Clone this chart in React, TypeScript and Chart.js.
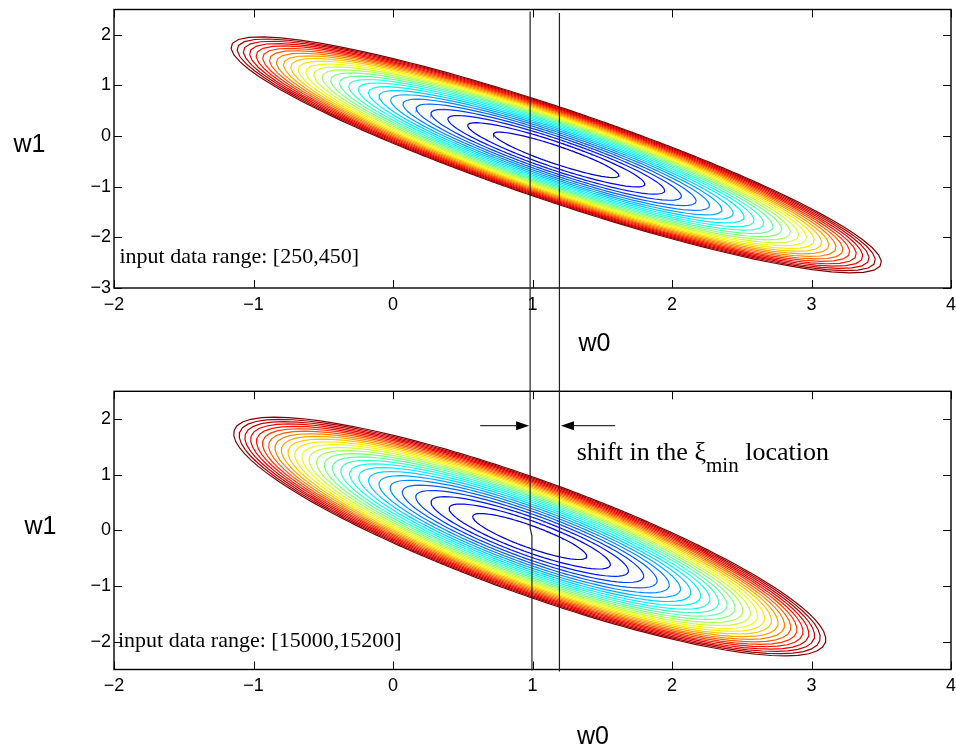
import React, { useEffect, useRef } from "react";
import { Chart, registerables } from "chart.js";

Chart.register(...registerables);

// Axis ticks
const W0_TICKS = [-2, -1, 0, 1, 2, 3, 4];
const W1_TICKS_TOP = [-3, -2, -1, 0, 1, 2];
const W1_TICKS_BOTTOM = [-2, -1, 0, 1, 2];

// Error surface E(w) = a·u² + 2b·u·v + c·v², u = w0 - w0*, v = w1 - w1*
const TOP_MIN = [1.17, -0.37];
const TOP_QUAD = [1, 0.91, 1];
const TOP_LEVEL_UNIT = 0.0346;

const BOTTOM_MIN = [0.98, -0.11];
const BOTTOM_QUAD = [1, 0.852, 0.978];
const BOTTOM_LEVEL_UNIT = 0.043;

// Contour levels, in multiples of the level unit
const CONTOUR_LEVELS = [
  1, 2, 3, 4, 5, 6, 7, 8, 9, 10, 11, 12, 13, 14, 15, 16, 17, 18, 19, 20, 21,
  22, 23, 24, 25, 26, 27,
];

// w0 positions of the two minima (marker lines)
const MIN_LINE_LEFT = 0.983;
const MIN_LINE_LEFT_LOW = 0.996;
const MIN_LINE_RIGHT = 1.193;

// Shift arrows (w0 of the arrow tails)
const ARROW_LEFT_TAIL = 0.625;
const ARROW_RIGHT_TAIL = 1.593;

const TOP_RANGE_LABEL = "input data range: [250,450]";
const BOTTOM_RANGE_LABEL = "input data range: [15000,15200]";

const SANS = "'Liberation Sans', Arial, Helvetica, sans-serif";
const SERIF = "'Liberation Serif', 'Times New Roman', serif";

const clamp01 = (x: number) => Math.max(0, Math.min(1, x));

function jet(t: number): string {
  const r = clamp01(1.5 - Math.abs(4 * t - 3));
  const g = clamp01(1.5 - Math.abs(4 * t - 2));
  const b = clamp01(1.5 - Math.abs(4 * t - 1));
  return `rgb(${Math.round(r * 255)},${Math.round(g * 255)},${Math.round(b * 255)})`;
}

function contourPoints(center: number[], quad: number[], level: number) {
  const [a, b, c] = quad;
  const pts: { x: number; y: number }[] = [];
  const n = 240;
  for (let i = 0; i <= n; i++) {
    const th = (2 * Math.PI * i) / n;
    const cs = Math.cos(th);
    const sn = Math.sin(th);
    const q = a * cs * cs + 2 * b * cs * sn + c * sn * sn;
    const r = Math.sqrt(level / q);
    pts.push({ x: center[0] + r * cs, y: center[1] + r * sn });
  }
  return pts;
}

function contourDatasets(center: number[], quad: number[], unit: number) {
  const n = CONTOUR_LEVELS.length;
  return CONTOUR_LEVELS.map((k, i) => ({
    data: contourPoints(center, quad, k * unit),
    showLine: true,
    borderColor: jet(0.08 + (0.92 * i) / (n - 1)),
    borderWidth: 1.2,
    pointRadius: 0,
    fill: false,
    tension: 0,
  }));
}

const fmt = (v: number) => (v < 0 ? "\u2212" + Math.abs(v) : String(v));

function frameAndTicks(chart: any, yTicks: number[]) {
  const { ctx, chartArea } = chart;
  const xs = chart.scales.x;
  const ys = chart.scales.y;
  const { left, right, top, bottom } = chartArea;
  ctx.save();
  ctx.strokeStyle = "#000";
  ctx.lineWidth = 1;
  ctx.beginPath();
  const tl = 8;
  W0_TICKS.forEach((v) => {
    const px = Math.round(xs.getPixelForValue(v)) + 0.5;
    ctx.moveTo(px, bottom);
    ctx.lineTo(px, bottom - tl);
    ctx.moveTo(px, top);
    ctx.lineTo(px, top + tl);
  });
  yTicks.forEach((v) => {
    const py = Math.round(ys.getPixelForValue(v)) + 0.5;
    ctx.moveTo(left, py);
    ctx.lineTo(left + tl, py);
    ctx.moveTo(right, py);
    ctx.lineTo(right - tl, py);
  });
  ctx.stroke();
  ctx.lineWidth = 1.4;
  ctx.strokeRect(left, top, right - left, bottom - top);
  ctx.restore();
}

function makeOptions(
  yMin: number,
  yMax: number,
  yTicks: number[],
  padTop: number,
  xAxisHeight: number
) {
  return {
    responsive: false,
    animation: false,
    events: [],
    layout: { padding: { left: 0, right: 5, top: padTop, bottom: 0 } },
    plugins: {
      legend: { display: false },
      tooltip: { enabled: false },
      title: { display: false },
    },
    scales: {
      x: {
        type: "linear",
        min: -2,
        max: 4,
        afterBuildTicks: (s: any) => {
          s.ticks = W0_TICKS.map((v) => ({ value: v }));
        },
        afterFit: (s: any) => {
          s.height = xAxisHeight;
          s.paddingLeft = 0;
          s.paddingRight = 0;
        },
        grid: { display: false, drawTicks: false },
        border: { display: false },
        ticks: {
          color: "#000",
          font: { family: SANS, size: 18 },
          padding: 6,
          maxRotation: 0,
          autoSkip: false,
          callback: (v: number) => fmt(v),
        },
      },
      y: {
        type: "linear",
        min: yMin,
        max: yMax,
        afterBuildTicks: (s: any) => {
          s.ticks = yTicks.map((v) => ({ value: v }));
        },
        afterFit: (s: any) => {
          s.width = 114;
          s.paddingTop = 0;
          s.paddingBottom = 0;
        },
        grid: { display: false, drawTicks: false },
        border: { display: false },
        ticks: {
          color: "#000",
          font: { family: SANS, size: 18 },
          padding: 3,
          autoSkip: false,
          callback: (v: number) => fmt(v),
        },
      },
    },
  };
}

function drawArrow(ctx: CanvasRenderingContext2D, x0: number, x1: number, y: number) {
  const dir = Math.sign(x1 - x0);
  const head = 13;
  const half = 4.5;
  ctx.beginPath();
  ctx.moveTo(x0, y);
  ctx.lineTo(x1 - dir * head, y);
  ctx.stroke();
  ctx.beginPath();
  ctx.moveTo(x1, y);
  ctx.lineTo(x1 - dir * head, y - half);
  ctx.lineTo(x1 - dir * head, y + half);
  ctx.closePath();
  ctx.fill();
}

export default function App() {
  const topRef = useRef<HTMLCanvasElement>(null);
  const bottomRef = useRef<HTMLCanvasElement>(null);

  useEffect(() => {
    if (!topRef.current || !bottomRef.current) return;

    const topOverlay = {
      id: "topOverlay",
      afterDatasetsDraw(chart: any) {
        const { ctx } = chart;
        const xs = chart.scales.x;
        frameAndTicks(chart, W1_TICKS_TOP);
        ctx.save();
        // minimum marker lines
        ctx.strokeStyle = "#222";
        ctx.lineWidth = 1.2;
        ctx.beginPath();
        [MIN_LINE_LEFT, MIN_LINE_RIGHT].forEach((v, i) => {
          const px = xs.getPixelForValue(v);
          ctx.moveTo(px, i === 0 ? 11.5 : 13);
          ctx.lineTo(px, chart.height);
        });
        ctx.stroke();
        // labels
        ctx.fillStyle = "#000";
        ctx.textBaseline = "alphabetic";
        ctx.font = `25px ${SANS}`;
        ctx.textAlign = "center";
        ctx.fillText("w1", 29.5, 151.5);
        ctx.fillText("w0", 594.5, 350.5);
        ctx.textAlign = "left";
        ctx.font = `22px ${SERIF}`;
        ctx.fillText(TOP_RANGE_LABEL, 119.5, 263);
        ctx.restore();
      },
    };

    const bottomOverlay = {
      id: "bottomOverlay",
      afterDatasetsDraw(chart: any) {
        const { ctx, chartArea } = chart;
        const xs = chart.scales.x;
        frameAndTicks(chart, W1_TICKS_BOTTOM);
        ctx.save();
        ctx.strokeStyle = "#222";
        ctx.lineWidth = 1.2;
        const xl = xs.getPixelForValue(MIN_LINE_LEFT);
        const xl2 = xs.getPixelForValue(MIN_LINE_LEFT_LOW);
        const xr = xs.getPixelForValue(MIN_LINE_RIGHT);
        ctx.beginPath();
        ctx.moveTo(xl, 0);
        ctx.lineTo(xl, 148);
        ctx.lineTo(xl2, 156);
        ctx.lineTo(xl2, chartArea.bottom + 1);
        ctx.moveTo(xr, 0);
        ctx.lineTo(xr, chartArea.bottom + 2);
        ctx.stroke();

        // shift arrows
        ctx.strokeStyle = "#000";
        ctx.fillStyle = "#000";
        ctx.lineWidth = 1;
        const ay = 45.7;
        drawArrow(ctx, xs.getPixelForValue(ARROW_LEFT_TAIL), xl - 1, ay);
        drawArrow(ctx, xs.getPixelForValue(ARROW_RIGHT_TAIL), xr + 1.5, ay);

        // annotation text
        ctx.textBaseline = "alphabetic";
        ctx.textAlign = "left";
        const main = `26px ${SERIF}`;
        const sub = `21px ${SERIF}`;
        let tx = 576.7;
        const by = 80;
        ctx.font = main;
        const part1 = "shift in the \u03BE";
        ctx.fillText(part1, tx, by);
        tx += ctx.measureText(part1).width;
        ctx.font = sub;
        ctx.fillText("min", tx, by + 11.7);
        tx += ctx.measureText("min").width;
        ctx.font = main;
        ctx.fillText(" location", tx, by);

        ctx.font = `25px ${SANS}`;
        ctx.textAlign = "center";
        ctx.fillText("w1", 40.5, 154);
        ctx.fillText("w0", 593, 363.5);
        ctx.textAlign = "left";
        ctx.font = `22px ${SERIF}`;
        ctx.fillText(BOTTOM_RANGE_LABEL, 118, 266.7);
        ctx.restore();
      },
    };

    const topChart = new Chart(topRef.current, {
      type: "scatter",
      data: { datasets: contourDatasets(TOP_MIN, TOP_QUAD, TOP_LEVEL_UNIT) as any },
      options: makeOptions(-3, 2.5, W1_TICKS_TOP, 9.5, 92) as any,
      plugins: [topOverlay],
    });

    const bottomChart = new Chart(bottomRef.current, {
      type: "scatter",
      data: {
        datasets: contourDatasets(BOTTOM_MIN, BOTTOM_QUAD, BOTTOM_LEVEL_UNIT) as any,
      },
      options: makeOptions(-2.5, 2.5, W1_TICKS_BOTTOM, 11.3, 77.5) as any,
      plugins: [bottomOverlay],
    });

    return () => {
      topChart.destroy();
      bottomChart.destroy();
    };
  }, []);

  return (
    <div
      style={{
        position: "absolute",
        left: 0,
        top: 0,
        width: 956,
        height: 747,
        background: "#fff",
      }}
    >
      <canvas
        ref={topRef}
        width={956}
        height={380}
        style={{ position: "absolute", left: 0, top: 0, width: 956, height: 380 }}
      />
      <canvas
        ref={bottomRef}
        width={956}
        height={367}
        style={{ position: "absolute", left: 0, top: 380, width: 956, height: 367 }}
      />
    </div>
  );
}
